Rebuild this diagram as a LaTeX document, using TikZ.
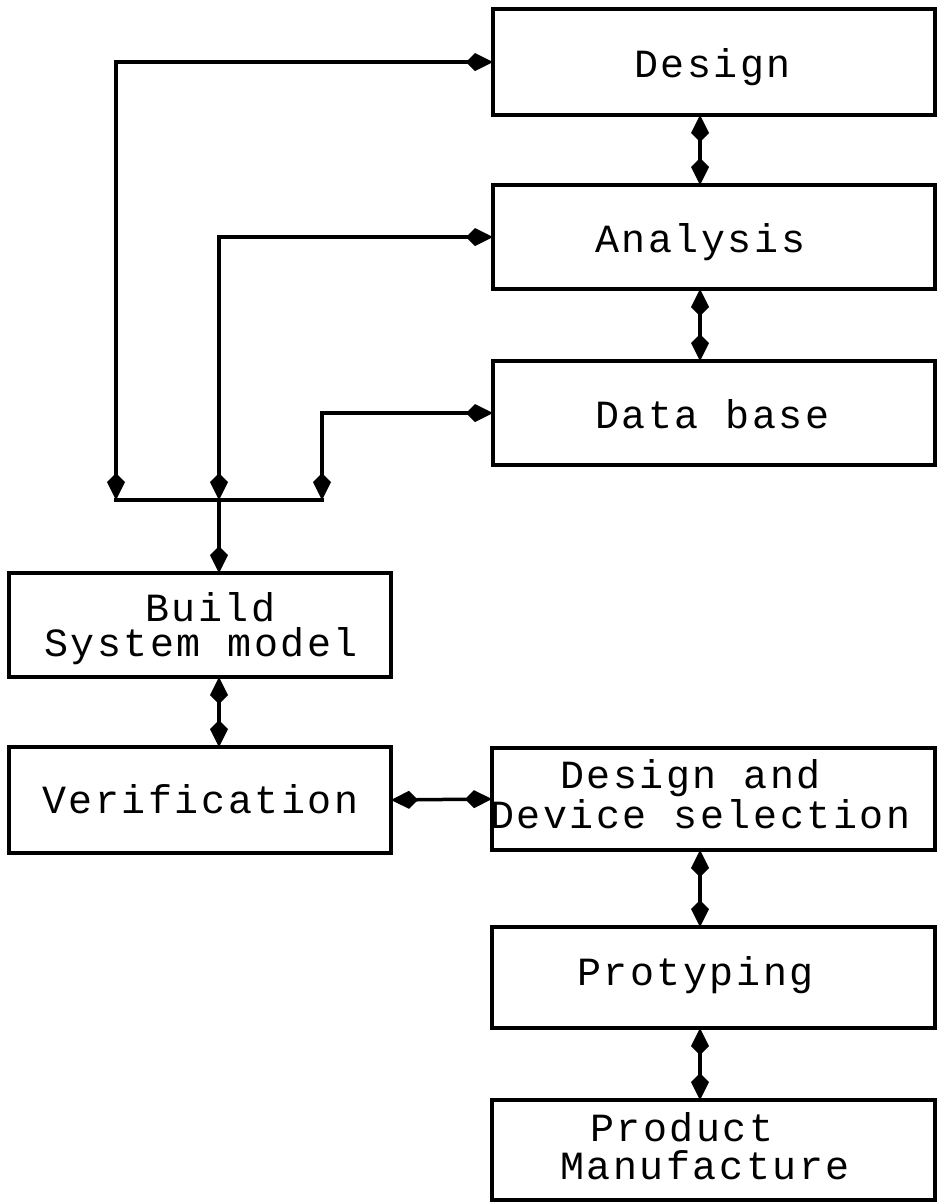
\documentclass[tikz,border=0pt]{standalone}
\usepackage{fontspec}
\newfontfamily\plotfont[LetterSpace=6.5]{Liberation Mono}
\usetikzlibrary{arrows.meta}

\tikzset{
  box/.style={draw, line width=3.5pt, rectangle, inner sep=0pt, outer sep=0pt},
  lbl/.style={anchor=base west, inner sep=0pt, outer sep=0pt,
              font=\plotfont\fontsize{40}{33}\selectfont},
  link/.style={line width=3.5pt},
  both/.style={link, {Kite[length=27pt,width=18pt,inset=9pt]}-{Kite[length=27pt,width=18pt,inset=9pt]}},
  one/.style={link, -{Kite[length=27pt,width=18pt,inset=9pt]}}
}

\begin{document}
\begin{tikzpicture}[x={(1pt,0)}, y={(0,-1pt)}]
  \useasboundingbox (0,0) rectangle (940,1203);

  % right column
  \node[box, minimum width=442pt, minimum height=106pt] (design)   at (714,62)    {};
  \node[box, minimum width=442pt, minimum height=104pt] (analysis) at (714,237)   {};
  \node[box, minimum width=442pt, minimum height=104pt] (database) at (714,413)   {};
  \node[box, minimum width=443pt, minimum height=102pt] (dds)      at (713.5,799) {};
  \node[box, minimum width=443pt, minimum height=101pt] (proto)    at (713.5,977.5) {};
  \node[box, minimum width=443pt, minimum height=100pt] (manuf)    at (713.5,1150) {};

  % left column
  \node[box, minimum width=382pt, minimum height=104pt] (build) at (200,625) {};
  \node[box, minimum width=382pt, minimum height=106pt] (verif) at (200,800) {};

  % labels
  \node[lbl] (t-design)   at (634,77)   {Design};
  \node[lbl] (t-analysis) at (595,252)  {Analysis};
  \node[lbl] (t-database) at (595,428)  {Data base};
  \node[lbl] (t-build1)   at (145,621)  {Build};
  \node[lbl] (t-build2)   at (44,656)   {System model};
  \node[lbl] (t-verif)    at (42,813)   {Verification};
  \node[lbl] (t-dds1)     at (560,788)  {Design and};
  \node[lbl] (t-dds2)     at (490,828)  {Device selection};
  \node[lbl] (t-proto)    at (577,985)  {Protyping};
  \node[lbl] (t-manuf1)   at (590,1141) {Product};
  \node[lbl] (t-manuf2)   at (560,1179) {Manufacture};

  % collecting bus
  \coordinate (busL) at (116,500);
  \coordinate (busM) at (219,500);
  \coordinate (busR) at (322,500);
  \coordinate (col)  at (700,0);

  \draw[link, line cap=rect] (busL) -- (busR);
  \draw[both] (busL) |- (design.west);
  \draw[both] (busM) |- (analysis.west);
  \draw[both] (busR) |- (database.west);
  \draw[one] (busM) -- (busM |- build.north);

  % two-way links
  \draw[both] (design.south -| col)   -- (analysis.north -| col);
  \draw[both] (analysis.south -| col) -- (database.north -| col);
  \draw[both] (build.south -| busM)   -- (verif.north -| busM);
  \draw[both] (verif.east)            -- (dds.west);
  \draw[both] (dds.south -| col)      -- (proto.north -| col);
  \draw[both] (proto.south -| col)    -- (manuf.north -| col);
\end{tikzpicture}
\end{document}
